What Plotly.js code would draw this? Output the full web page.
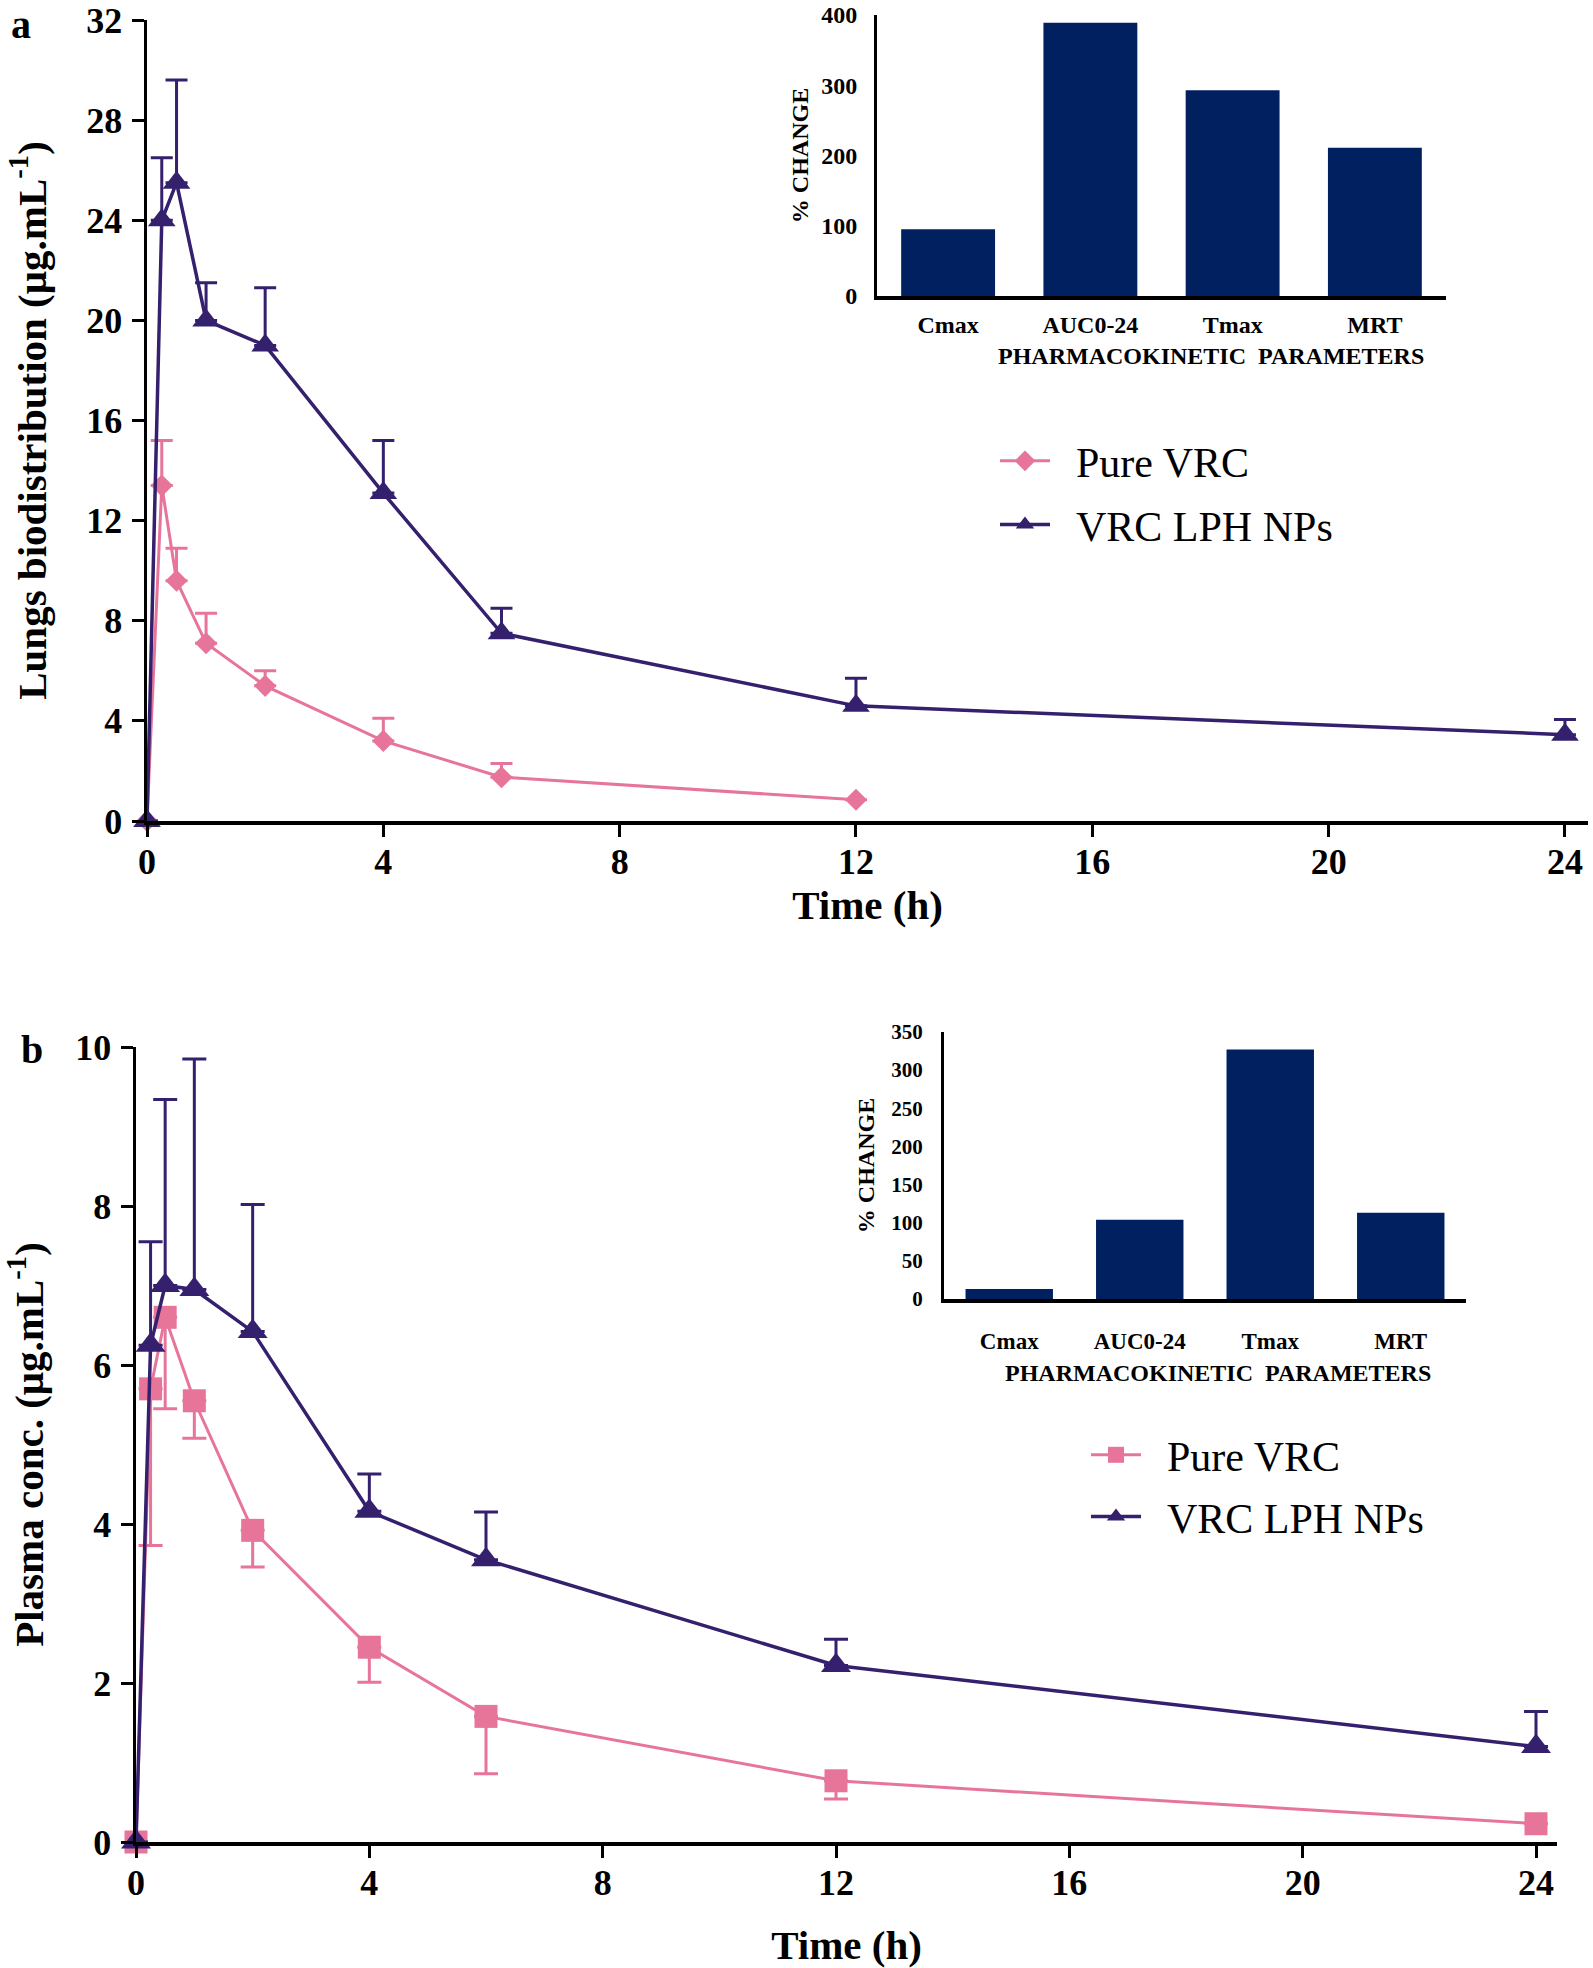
<!DOCTYPE html>
<html>
<head>
<meta charset="utf-8">
<script src="https://cdn.plot.ly/plotly-3.0.1.min.js"></script>
<style>html,body{margin:0;padding:0;background:#fff;}#chart{width:1593px;height:1968px;}</style>
</head>
<body>
<div id="chart"></div>
<script>
// ---- Panel a: lungs biodistribution ----
const timeLungPure = [0, 0.25, 0.5, 1, 2, 4, 6, 12];
const lungPure = [0, 13.4, 9.6, 7.1, 5.4, 3.2, 1.75, 0.85];
const lungPureErr = [0, 1.8, 1.3, 1.2, 0.6, 0.9, 0.55, 0];
const timeLungNP = [0, 0.25, 0.5, 1, 2, 4, 6, 12, 24];
const lungNP = [0, 24.0, 25.5, 20.0, 19.0, 13.1, 7.5, 4.6, 3.45];
const lungNPErr = [0, 2.5, 4.1, 1.5, 2.3, 2.1, 1.0, 1.1, 0.6];

// ---- Panel b: plasma concentration ----
const timePlasma = [0, 0.25, 0.5, 1, 2, 4, 6, 12, 24];
const plasmaPure = [0, 5.7, 6.6, 5.55, 3.92, 2.45, 1.58, 0.77, 0.23];
const plasmaPureErrMinus = [0, 1.97, 1.15, 0.47, 0.46, 0.44, 0.72, 0.23, 0];
const plasmaNP = [0, 6.25, 7.0, 6.95, 6.42, 4.16, 3.55, 2.22, 1.2];
const plasmaNPErr = [0, 1.3, 2.34, 2.9, 1.6, 0.47, 0.6, 0.33, 0.44];

// ---- Insets: % change in PK parameters ----
const pkParams = ['Cmax', 'AUC0-24', 'Tmax', 'MRT'];
const changeLung = [95, 389, 293, 211];
const changePlasma = [13, 104, 327, 113];

const timeTicks = [0, 4, 8, 12, 16, 20, 24];
const lungTicks = [0, 4, 8, 12, 16, 20, 24, 28, 32];
const plasmaTicks = [0, 2, 4, 6, 8, 10];
const lungBarTicks = [0, 100, 200, 300, 400];
const plasmaBarTicks = [0, 50, 100, 150, 200, 250, 300, 350];

const PINK = '#E7759A';
const PURPLE = '#35206E';
const NAVY = '#002060';
const SERIF = 'Liberation Serif, Times New Roman, serif';
const NB = '\u00a0\u00a0';

const W = 1593, H = 1968;
const px = v => v / W;
const py = v => 1 - v / H;

function zeros(n){ return new Array(n).fill(0); }

const traces = [
  {x: timeLungPure, y: lungPure, name: NB + 'Pure VRC', type: 'scatter', mode: 'lines+markers',
   xaxis: 'x', yaxis: 'y', legend: 'legend', legendgroup: 'a1', cliponaxis: false,
   line: {color: PINK, width: 3}, marker: {symbol: 'diamond', size: 17, color: PINK},
   error_y: {type: 'data', symmetric: false, array: lungPureErr, arrayminus: zeros(lungPureErr.length),
             color: PINK, thickness: 3, width: 11}},
  {x: timeLungNP, y: lungNP, name: NB + 'VRC LPH NPs', type: 'scatter', mode: 'lines+markers',
   xaxis: 'x', yaxis: 'y', legend: 'legend', legendgroup: 'a2', cliponaxis: false,
   line: {color: PURPLE, width: 3.5}, marker: {symbol: 'triangle-up', size: 24, color: PURPLE},
   error_y: {type: 'data', symmetric: false, array: lungNPErr, arrayminus: zeros(lungNPErr.length),
             color: PURPLE, thickness: 3, width: 11}},
  {x: timePlasma, y: plasmaPure, name: NB + 'Pure VRC', type: 'scatter', mode: 'lines+markers',
   xaxis: 'x2', yaxis: 'y2', legend: 'legend2', legendgroup: 'b1', cliponaxis: false,
   line: {color: PINK, width: 3}, marker: {symbol: 'square', size: 23, color: PINK},
   error_y: {type: 'data', symmetric: false, array: zeros(plasmaPureErrMinus.length), arrayminus: plasmaPureErrMinus,
             color: PINK, thickness: 3, width: 12}},
  {x: timePlasma, y: plasmaNP, name: NB + 'VRC LPH NPs', type: 'scatter', mode: 'lines+markers',
   xaxis: 'x2', yaxis: 'y2', legend: 'legend2', legendgroup: 'b2', cliponaxis: false,
   line: {color: PURPLE, width: 3.5}, marker: {symbol: 'triangle-up', size: 26, color: PURPLE},
   error_y: {type: 'data', symmetric: false, array: plasmaNPErr, arrayminus: zeros(plasmaNPErr.length),
             color: PURPLE, thickness: 3, width: 12}},
  {x: pkParams, y: changeLung, type: 'bar', xaxis: 'x3', yaxis: 'y3', showlegend: false,
   marker: {color: NAVY}, width: 0.66},
  {x: pkParams, y: changePlasma, type: 'bar', xaxis: 'x4', yaxis: 'y4', showlegend: false,
   marker: {color: NAVY}, width: 0.67}
];

const mainTickFont = {family: SERIF, size: 36, color: '#000', weight: 'bold'};
const mainTitleFont = {family: SERIF, size: 41, color: '#000', weight: 'bold'};

function mainX(domain, rmax, standoff){
  return {domain: domain, range: [0, rmax], tickvals: timeTicks, ticktext: timeTicks.map(String),
    showline: true, linecolor: '#000', linewidth: 3.5, ticks: 'outside', ticklen: 12, tickwidth: 3,
    tickcolor: '#000', showgrid: false, zeroline: false, tickfont: mainTickFont, ticklabelstandoff: -6,
    ticklabeloverflow: 'allow',
    title: {text: 'Time (h)', font: mainTitleFont, standoff: standoff}, fixedrange: true};
}
function mainY(domain, rmax, ticks, title, anchor, standoff){
  return {domain: domain, range: [0, rmax], tickvals: ticks, ticktext: ticks.map(String), anchor: anchor,
    showline: true, linecolor: '#000', linewidth: 3.5, ticks: 'outside', ticklen: 12, tickwidth: 3,
    tickcolor: '#000', showgrid: false, zeroline: false, tickfont: mainTickFont, ticklabelstandoff: 2,
    ticklabeloverflow: 'allow',
    title: {text: title, font: mainTitleFont, standoff: standoff}, fixedrange: true};
}
function insetX(domain, anchor, catSize, lblStandoff){
  return {domain: domain, anchor: anchor, range: [-0.5, 3.5], showline: true, linecolor: '#000', linewidth: 4,
    ticks: '', showgrid: false, zeroline: false,
    tickfont: {family: SERIF, size: catSize, color: '#000', weight: 'bold'}, ticklabelstandoff: lblStandoff,
    fixedrange: true};
}
function insetY(domain, anchor, rmax, ticks, tickSize, lblStandoff, standoff){
  return {domain: domain, anchor: anchor, range: [0, rmax], tickvals: ticks, ticktext: ticks.map(String),
    showline: true, linecolor: '#000', linewidth: 3, ticks: '', showgrid: false, zeroline: false,
    tickfont: {family: SERIF, size: tickSize, color: '#000', weight: 'bold'}, ticklabelstandoff: lblStandoff,
    ticklabeloverflow: 'allow',
    title: {text: '% CHANGE', font: {family: SERIF, size: 24, color: '#000', weight: 'bold'}, standoff: standoff},
    fixedrange: true};
}

const layout = {
  width: W, height: H, margin: {l: 0, r: 0, t: 0, b: 0},
  paper_bgcolor: '#fff', plot_bgcolor: 'rgba(0,0,0,0)',
  font: {family: SERIF, color: '#000'},
  showlegend: true,
  xaxis: mainX([px(147), px(1588)], 24.39, 0),
  yaxis: mainY([py(821), py(20)], 32, lungTicks, 'Lungs biodistribution (μg.mL<sup>-1</sup>)', 'x', 28),
  xaxis2: Object.assign(mainX([px(136), px(1557)], 24.36, 39), {anchor: 'y2'}),
  yaxis2: mainY([py(1842), py(1047)], 10, plasmaTicks, 'Plasma conc. (μg.mL<sup>-1</sup>)', 'x2', 20),
  xaxis3: insetX([px(877), px(1446)], 'y3', 24, 4),
  yaxis3: insetY([py(296), py(15)], 'x3', 400, lungBarTicks, 24, 12, 6),
  xaxis4: insetX([px(944), px(1466)], 'y4', 23, 18),
  yaxis4: insetY([py(1299), py(1032)], 'x4', 350, plasmaBarTicks, 21, 14, 10),
  legend: {x: px(995), y: py(427), xanchor: 'left', yanchor: 'top', bgcolor: 'rgba(0,0,0,0)',
    font: {family: SERIF, size: 42, color: '#000'}, itemwidth: 50, tracegroupgap: 6, traceorder: 'grouped'},
  legend2: {x: px(1086), y: py(1421), xanchor: 'left', yanchor: 'top', bgcolor: 'rgba(0,0,0,0)',
    font: {family: SERIF, size: 42, color: '#000'}, itemwidth: 50, tracegroupgap: 4, traceorder: 'grouped'},
  annotations: [
    {text: 'a', x: px(21), y: 1, xref: 'paper', yref: 'paper', xanchor: 'center', yanchor: 'top',
     showarrow: false, font: {family: SERIF, size: 40, color: '#000', weight: 'bold'}},
    {text: 'b', x: px(32), y: py(1049), xref: 'paper', yref: 'paper', xanchor: 'center', yanchor: 'middle',
     showarrow: false, font: {family: SERIF, size: 40, color: '#000', weight: 'bold'}},
    {text: 'PHARMACOKINETIC  PARAMETERS', x: px(1211), y: py(356), xref: 'paper', yref: 'paper',
     xanchor: 'center', yanchor: 'middle', showarrow: false,
     font: {family: SERIF, size: 24, color: '#000', weight: 'bold'}},
    {text: 'PHARMACOKINETIC  PARAMETERS', x: px(1218), y: py(1373), xref: 'paper', yref: 'paper',
     xanchor: 'center', yanchor: 'middle', showarrow: false,
     font: {family: SERIF, size: 24, color: '#000', weight: 'bold'}}
  ]
};

Plotly.newPlot('chart', traces, layout, {displayModeBar: false, staticPlot: true});
</script>
</body>
</html>
